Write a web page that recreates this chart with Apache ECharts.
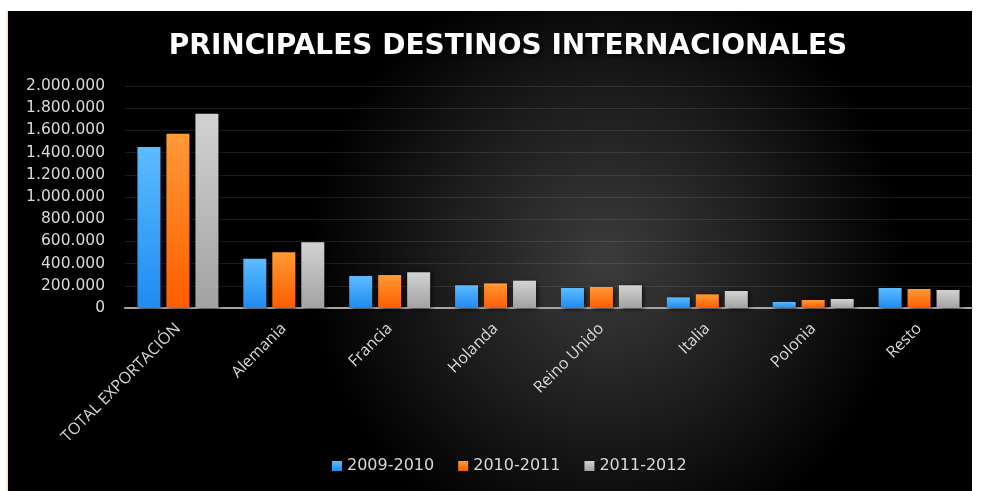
<!DOCTYPE html>
<html>
<head>
<meta charset="utf-8">
<script src="https://cdn.jsdelivr.net/npm/echarts@6/dist/echarts.min.js"></script>
<style>
  html, body { margin: 0; padding: 0; background: #fff; }
  #chart { width: 984px; height: 491px; }
</style>
</head>
<body>
<div id="chart"></div>
<script>
var categories = ['TOTAL EXPORTACIÓN', 'Alemania', 'Francia', 'Holanda', 'Reino Unido', 'Italia', 'Polonia', 'Resto'];
var seriesNames = ['2009-2010', '2010-2011', '2011-2012'];
var v2009 = [1450000, 444000, 288000, 205000, 180000, 96000, 54000, 180000];
var v2010 = [1570000, 502000, 297000, 222000, 189000, 123000, 72000, 171000];
var v2011 = [1750000, 592000, 322000, 246000, 205000, 153000, 81000, 162000];

(function () {
    var myChart = echarts.init(document.getElementById('chart'));

    function grad(top, bottom) {
        return new echarts.graphic.LinearGradient(0, 0, 0, 1, [
            { offset: 0, color: top },
            { offset: 1, color: bottom }
        ]);
    }

    function fmt(v) {
        return String(v).replace(/\B(?=(\d{3})+(?!\d))/g, '.');
    }

    var colors = [
        grad('#5cbcff', '#1f8bf2'),
        grad('#ff9a35', '#ff5c00'),
        grad('#d2d2d2', '#a2a2a2')
    ];
    var values = [v2009, v2010, v2011];

    var series = seriesNames.map(function (name, i) {
        return {
            name: name,
            type: 'bar',
            data: values[i],
            barWidth: 23,
            barGap: '26%',
            itemStyle: {
                color: colors[i],
                shadowColor: 'rgba(0,0,0,0.8)',
                shadowBlur: 5,
                shadowOffsetX: 2,
                shadowOffsetY: 1
            }
        };
    });

    var option = {
        backgroundColor: '#fff',
        animation: false,
        graphic: [
            {
                type: 'rect',
                z: -10,
                silent: true,
                shape: { x: 8, y: 11, width: 964, height: 480 },
                style: {
                    fill: new echarts.graphic.RadialGradient(0.62, 0.52, 0.62, [
                        { offset: 0, color: '#3c3c3c' },
                        { offset: 0.55, color: '#1c1c1c' },
                        { offset: 1, color: '#000' }
                    ])
                }
            },
            {
                type: 'rect',
                z: -10,
                silent: true,
                shape: { x: 6, y: 11, width: 2, height: 480 },
                style: { fill: '#f5e6d3' }
            }
        ],
        title: {
            text: 'PRINCIPALES DESTINOS INTERNACIONALES',
            left: 503,
            textAlign: 'center',
            top: 28,
            textStyle: {
                color: '#fff',
                fontFamily: 'DejaVu Sans',
                fontWeight: 'bold',
                fontSize: 28,
                textShadowColor: 'rgba(0,0,0,0.9)',
                textShadowBlur: 4,
                textShadowOffsetX: 2,
                textShadowOffsetY: 2
            }
        },
        legend: {
            bottom: 12,
            left: 327,
            itemWidth: 10,
            itemHeight: 10,
            itemGap: 24,
            icon: 'rect',
            textStyle: {
                color: '#d9d9d9',
                fontSize: 16,
                fontFamily: 'DejaVu Sans'
            },
            data: seriesNames
        },
        grid: {
            left: 125,
            right: 12,
            top: 86,
            bottom: 183
        },
        xAxis: {
            type: 'category',
            data: categories,
            axisTick: { show: false },
            axisLine: { lineStyle: { color: '#a6a6a6', width: 2 } },
            axisLabel: {
                rotate: 45,
                interval: 0,
                margin: 18,
                color: '#d9d9d9',
                fontSize: 16,
                fontFamily: 'Open Sans'
            }
        },
        yAxis: {
            type: 'value',
            min: 0,
            max: 2000000,
            interval: 200000,
            axisLine: { show: false },
            axisTick: { show: false },
            splitLine: { lineStyle: { color: 'rgba(255,255,255,0.1)', width: 1 } },
            axisLabel: {
                color: '#d9d9d9',
                fontSize: 15.5,
                margin: 20,
                fontFamily: 'DejaVu Sans',
                formatter: fmt
            }
        },
        series: series
    };

    myChart.setOption(option);
    window.addEventListener('resize', function () {
        myChart.resize();
    });
})();
</script>
</body>
</html>
